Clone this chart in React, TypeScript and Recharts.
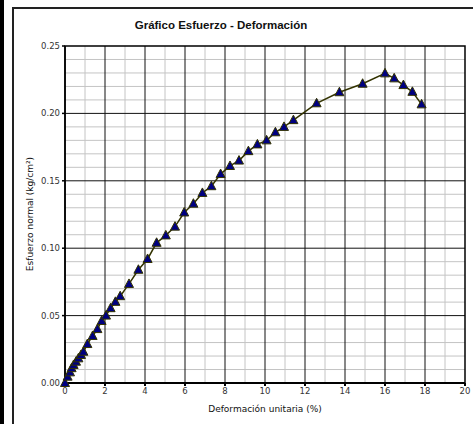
import React from 'react';
import {
  LineChart, Line, XAxis, YAxis, CartesianGrid, ReferenceArea,
} from 'recharts';

// deformación unitaria (%)
const strain = [
  0, 0.13, 0.25, 0.33, 0.43, 0.55, 0.67, 0.8, 0.92, 1.12, 1.38, 1.62, 1.83,
  2.05, 2.28, 2.52, 2.76, 3.2, 3.67, 4.13, 4.58, 5.04, 5.5, 5.96, 6.42, 6.87,
  7.32, 7.78, 8.25, 8.7, 9.17, 9.62, 10.08, 10.52, 10.95, 11.42, 12.58, 13.72,
  14.88, 16.0, 16.46, 16.92, 17.37, 17.83,
];
// esfuerzo normal (kg/cm2)
const stress = [
  0, 0.0047, 0.0079, 0.011, 0.0134, 0.0158, 0.0183, 0.0208, 0.0232, 0.0289,
  0.0349, 0.04, 0.046, 0.05, 0.0555, 0.0602, 0.0644, 0.0735, 0.084, 0.092,
  0.104, 0.1095, 0.116, 0.1265, 0.133, 0.141, 0.146, 0.155, 0.161, 0.165,
  0.172, 0.177, 0.18, 0.186, 0.19, 0.195, 0.2075, 0.2157, 0.222, 0.2297,
  0.226, 0.221, 0.216, 0.2067,
];

const xTicks = [0, 2, 4, 6, 8, 10, 12, 14, 16, 18, 20];
const yTicks = [0, 0.05, 0.1, 0.15, 0.2, 0.25];
const xMinorGrid = [1, 3, 5, 7, 9, 11, 13, 15, 17, 19];
const xMajorGrid = [2, 4, 6, 8, 10, 12, 14, 16, 18];
const yMinorGrid = [
  0.01, 0.02, 0.03, 0.04, 0.06, 0.07, 0.08, 0.09, 0.11, 0.12, 0.13, 0.14,
  0.16, 0.17, 0.18, 0.19, 0.21, 0.22, 0.23, 0.24,
];
const yMajorGrid = [0.05, 0.1, 0.15, 0.2];

const data = strain.map((x, i) => ({ x, y: stress[i] }));

const tickFont = { fontSize: 8.5, fill: '#333', fontFamily: 'DejaVu Sans' };

const Triangle = (props: any) => {
  const { cx, cy } = props;
  if (cx == null || cy == null) return null;
  return (
    <polygon
      points={`${cx},${cy - 5} ${cx + 4.5},${cy + 3.5} ${cx - 4.5},${cy + 3.5}`}
      fill="#000080"
      stroke="#333300"
      strokeWidth={1}
    />
  );
};

const App: React.FC = () => (
  <div style={{ position: 'absolute', left: 0, top: 0, width: 473, height: 424, background: '#fff', overflow: 'hidden' }}>
    <div style={{ position: 'absolute', left: 0, top: 0, width: 4, height: 424, background: '#000' }} />
    <div style={{ position: 'absolute', left: 12, top: 7, width: 480, height: 440, border: '2px solid #222' }} />
    <div
      style={{
        position: 'absolute', left: 0, top: 19, width: 442, textAlign: 'center',
        fontFamily: 'Liberation Sans', fontWeight: 'bold', fontSize: 11.5, color: '#111',
      }}
    >
      Gráfico Esfuerzo - Deformación
    </div>
    <LineChart
      width={473}
      height={424}
      data={data}
      margin={{ top: 46, right: 8, bottom: 0, left: 0 }}
      style={{ position: 'absolute', left: 0, top: 0 }}
    >
      <CartesianGrid stroke="#c4c4c4" strokeWidth={1} horizontalValues={yMinorGrid} verticalValues={xMinorGrid} />
      <CartesianGrid stroke="#111" strokeWidth={1} horizontalValues={yMajorGrid} verticalValues={xMajorGrid} />
      <XAxis
        dataKey="x"
        type="number"
        domain={[0, 20]}
        ticks={xTicks}
        interval={0}
        height={41}
        tickSize={3}
        tick={tickFont}
        stroke="#000"
        strokeWidth={2}
        label={{ value: 'Deformación unitaria (%)', position: 'insideBottom', offset: 12, style: { fontSize: 9, fill: '#111', fontFamily: 'DejaVu Sans' } }}
      />
      <YAxis
        type="number"
        domain={[0, 0.25]}
        ticks={yTicks}
        interval={0}
        width={65}
        tickSize={3}
        tick={tickFont}
        tickFormatter={(v: number) => v.toFixed(2)}
        stroke="#000"
        strokeWidth={1.5}
        label={{
          content: () => (
            <text x={30} y={214} transform="rotate(-90 30 214)" textAnchor="middle" dominantBaseline="middle" style={{ fontSize: 9, fill: '#111', fontFamily: 'DejaVu Sans' }}>
              Esfuerzo normal (kg/cm²)
            </text>
          ),
        }}
      />
      <ReferenceArea x1={0} x2={20} y1={0} y2={0.25} fill="none" stroke="#000" strokeWidth={1.5} fillOpacity={0} />
      <Line
        dataKey="y"
        stroke="#333300"
        strokeWidth={1.5}
        dot={<Triangle />}
        activeDot={false}
        isAnimationActive={false}
      />
    </LineChart>
  </div>
);

export default App;
